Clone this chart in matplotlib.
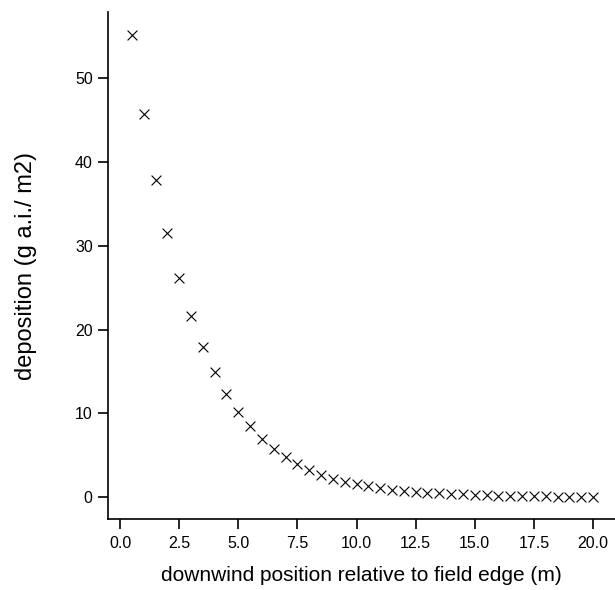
import matplotlib
matplotlib.use("Agg")
import matplotlib.pyplot as plt

plt.rcParams['font.family'] = ['Liberation Sans', 'DejaVu Sans']

distance_m = [0.5, 1.0, 1.5, 2.0, 2.5, 3.0, 3.5, 4.0, 4.5, 5.0,
              5.5, 6.0, 6.5, 7.0, 7.5, 8.0, 8.5, 9.0, 9.5, 10.0,
              10.5, 11.0, 11.5, 12.0, 12.5, 13.0, 13.5, 14.0, 14.5, 15.0,
              15.5, 16.0, 16.5, 17.0, 17.5, 18.0, 18.5, 19.0, 19.5, 20.0]
deposition = [55.1, 45.7, 37.9, 31.5, 26.1, 21.6, 17.9, 14.9, 12.3, 10.2,
              8.5, 7.0, 5.8, 4.8, 4.0, 3.3, 2.7, 2.2, 1.85, 1.55,
              1.3, 1.1, 0.92, 0.78, 0.66, 0.55, 0.46, 0.39, 0.33, 0.28,
              0.23, 0.19, 0.16, 0.14, 0.12, 0.1, 0.08, 0.07, 0.06, 0.05]
x_ticks = [0.0, 2.5, 5.0, 7.5, 10.0, 12.5, 15.0, 17.5, 20.0]
y_ticks = [0, 10, 20, 30, 40, 50]

fig = plt.figure(figsize=(6.15, 5.9), dpi=100)
ax = fig.add_axes([108/615, 71/590, (615-108)/615, (519-12)/590])
ax.scatter(distance_m, deposition, marker='x', s=50, c='black', linewidths=0.8)

ax.set_xlim(-0.51, 20.93)
ax.set_ylim(-2.6, 57.9)
ax.set_xticks(x_ticks)
ax.set_xticklabels([f"{t:.1f}" for t in x_ticks])
ax.set_yticks(y_ticks)
ax.set_yticklabels([str(t) for t in y_ticks])

for s in ['top', 'right']:
    ax.spines[s].set_visible(False)
for s in ['left', 'bottom']:
    ax.spines[s].set_linewidth(1.2)
ax.tick_params(axis='both', direction='out', length=7, width=1.2, labelsize=11.5, colors='black')
ax.tick_params(axis='x', pad=5)
ax.tick_params(axis='y', pad=4)

ax.set_xlabel('downwind position relative to field edge (m)', fontsize=15, labelpad=11)
ax.set_ylabel('deposition (g a.i./ m2)', fontsize=17, labelpad=27)

fig.savefig('out.png', dpi=100)
